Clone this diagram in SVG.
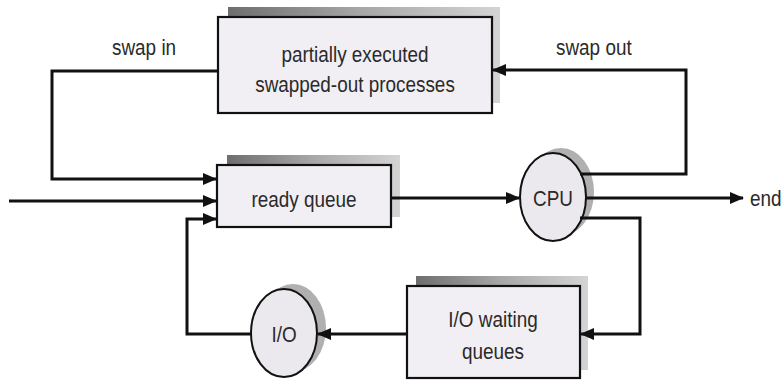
<svg xmlns="http://www.w3.org/2000/svg" width="782" height="381" viewBox="0 0 782 381">
<style>
.box{fill:#f1eff4;stroke:#111;stroke-width:2.2}
.ell{fill:#ebe8ee;stroke:#111;stroke-width:2}
.esh{fill:#b0b0b0}
.t{font-family:"Liberation Sans",Arial,sans-serif;font-size:22px;fill:#2a2a2a;text-anchor:middle;dominant-baseline:central}
.lbl{font-family:"Liberation Sans",Arial,sans-serif;font-size:22px;fill:#2a2a2a}
.c{fill:none;stroke:#111;stroke-width:3;stroke-linejoin:miter}
</style>
<defs>
<linearGradient id="sh" x1="0" y1="0" x2="1" y2="0">
<stop offset="0" stop-color="#6e6e6e"/>
<stop offset="0.5" stop-color="#a8a8a8"/>
<stop offset="1" stop-color="#d4d4d4"/>
</linearGradient>
<marker id="ah" markerWidth="14" markerHeight="12" refX="13" refY="6" orient="auto" markerUnits="userSpaceOnUse">
<path d="M0,0 L14,6 L0,12 Z" fill="#111"/>
</marker>
</defs>
<rect width="782" height="381" fill="#fff"/>
<g id="swapped">
<rect x="228" y="7" width="272" height="96" fill="url(#sh)"/>
<rect class="box" x="218" y="17" width="274" height="96"/>
<g transform="translate(355,54) scale(0.86,1)"><text class="t">partially executed</text></g>
<g transform="translate(355,84) scale(0.86,1)"><text class="t">swapped-out processes</text></g>
</g>
<g id="ready">
<rect x="227" y="155" width="173" height="62" fill="url(#sh)"/>
<rect class="box" x="217" y="165" width="174" height="62"/>
<g transform="translate(304,199) scale(0.86,1)"><text class="t">ready queue</text></g>
</g>
<g id="cpu">
<ellipse class="esh" cx="561" cy="192" rx="33" ry="44"/>
<ellipse class="ell" cx="553" cy="197" rx="33" ry="44"/>
<g transform="translate(553,198) scale(0.86,1)"><text class="t">CPU</text></g>
</g>
<g id="iowait">
<rect x="416" y="276" width="172" height="94" fill="url(#sh)"/>
<rect class="box" x="407" y="286" width="173" height="92"/>
<g transform="translate(493,319) scale(0.86,1)"><text class="t">I/O waiting</text></g>
<g transform="translate(493,351) scale(0.86,1)"><text class="t">queues</text></g>
</g>
<g id="io">
<ellipse class="esh" cx="293" cy="328" rx="33" ry="44"/>
<ellipse class="ell" cx="284" cy="333" rx="33" ry="44"/>
<g transform="translate(284,334) scale(0.86,1)"><text class="t">I/O</text></g>
</g>
<g id="labels">
<g transform="translate(112,55) scale(0.86,1)"><text class="lbl">swap in</text></g>
<g transform="translate(556,55) scale(0.86,1)"><text class="lbl">swap out</text></g>
<g transform="translate(750,198) scale(0.86,1)"><text class="lbl" dominant-baseline="central">end</text></g>
</g>
<g id="connectors">
<path class="c" d="M218,71 H52 V179 H216" marker-end="url(#ah)"/>
<path class="c" d="M9,201 H216" marker-end="url(#ah)"/>
<path class="c" d="M251,334 H187 V219 H216" marker-end="url(#ah)"/>
<path class="c" d="M391,198 H519" marker-end="url(#ah)"/>
<path class="c" d="M580,174 H686 V70 H493" marker-end="url(#ah)"/>
<path class="c" d="M586,198 H743" marker-end="url(#ah)"/>
<path class="c" d="M580,218 H640 V334 H581" marker-end="url(#ah)"/>
<path class="c" d="M407,334 H318" marker-end="url(#ah)"/>
</g>
</svg>
